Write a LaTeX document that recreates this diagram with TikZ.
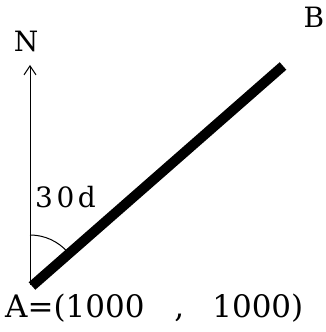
\documentclass[tikz,border=0pt]{standalone}
\usepackage{fontspec}
\setmainfont{DejaVu Serif}
\usetikzlibrary{arrows.meta}
\begin{document}
\begin{tikzpicture}[x=1pt,y=1pt,
  lbl/.style={inner sep=0pt, font=\fontsize{28}{30}\selectfont},
  big/.style={inner sep=0pt, font=\fontsize{31}{34}\selectfont}]
\useasboundingbox (0,0) rectangle (325,332);
\coordinate (A) at (30,47);
\coordinate (Ntip) at (30,267);
\coordinate (L0) at (32,46);
\coordinate (L1) at (283,266);
\draw[line width=1pt, -{Straight Barb[length=9pt,width=12pt,line width=1pt]}] (A) -- (Ntip);
\draw[line width=10pt] (L0) -- (L1);
\draw[line width=1pt] (30,97) arc[start angle=90, end angle=41.2, radius=50];
\node[lbl, anchor=base] (N) at (26,280) {N};
\node[lbl, anchor=base] (B) at (314,304) {B};
\node[lbl, anchor=base west] (ang) at (35,124) {3\kern3.5pt 0\kern3.5pt d};
\node[big, anchor=base west] (Alab) at (5,14) {A=(1000\hspace{30pt},\hspace{28pt}1000)};
\end{tikzpicture}
\end{document}
